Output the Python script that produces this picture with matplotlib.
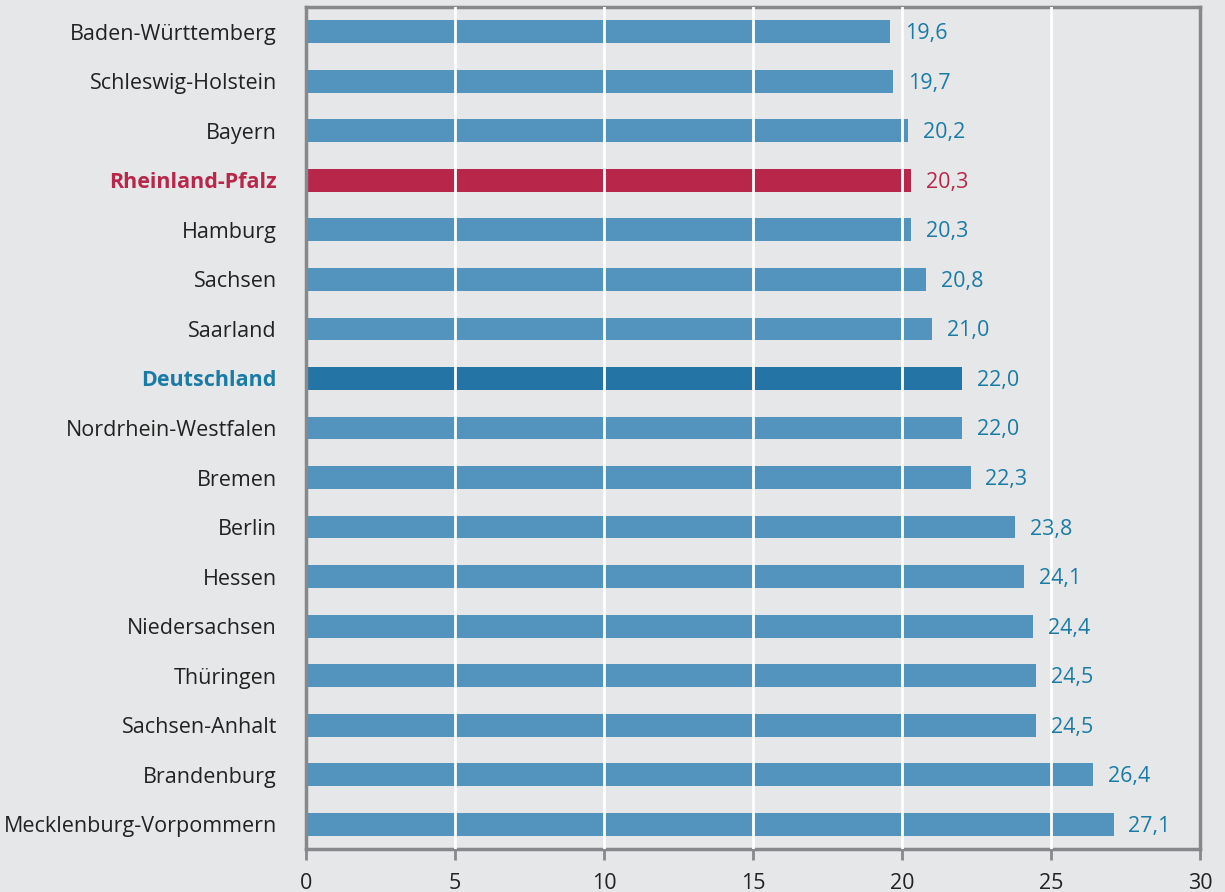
import matplotlib
matplotlib.use("Agg")
import matplotlib.pyplot as plt

states = ["Baden-Württemberg", "Schleswig-Holstein", "Bayern", "Rheinland-Pfalz",
          "Hamburg", "Sachsen", "Saarland", "Deutschland", "Nordrhein-Westfalen",
          "Bremen", "Berlin", "Hessen", "Niedersachsen", "Thüringen",
          "Sachsen-Anhalt", "Brandenburg", "Mecklenburg-Vorpommern"]
values = [19.6, 19.7, 20.2, 20.3, 20.3, 20.8, 21.0, 22.0, 22.0,
          22.3, 23.8, 24.1, 24.4, 24.5, 24.5, 26.4, 27.1]
xticks = [0, 5, 10, 15, 20, 25, 30]

bg = "#E6E7E8"
bar_col = "#5294BD"
red = "#B8274A"
dblue = "#2474A6"
val_col = "#1A7BA5"
spine_col = "#86888C"

plt.rcParams['font.family'] = ['Open Sans', 'DejaVu Sans']

fig = plt.figure(figsize=(12.25, 8.92), dpi=100, facecolor=bg)
ax = fig.add_axes([306 / 1225, 1 - 849 / 892, (1200 - 306) / 1225, (849 - 7) / 892])
ax.set_facecolor(bg)

colors = []
for s in states:
    if s == "Rheinland-Pfalz":
        colors.append(red)
    elif s == "Deutschland":
        colors.append(dblue)
    else:
        colors.append(bar_col)

ypos = list(range(len(states)))
ax.barh(ypos, values, height=0.46, color=colors, zorder=2)
for x in xticks[1:-1]:
    ax.axvline(x, color="white", lw=2, zorder=3)

for y, v, s in zip(ypos, values, states):
    c = red if s == "Rheinland-Pfalz" else val_col
    ax.text(v + 0.5, y + 0.04, f"{v:.1f}".replace(".", ","), va="center", ha="left",
            fontsize=15.5, color=c)

ax.set_xlim(0, 30)
ax.set_ylim(16.5, -0.5)
ax.set_xticks(xticks)
ax.set_xticklabels([str(t) for t in xticks], fontsize=15.5, color="#222222")
ax.set_yticks(ypos)
ax.set_yticklabels(states, fontsize=15.5, color="#222222")
ax.tick_params(axis="y", length=0, pad=21)
ax.tick_params(axis="x", length=8, width=2, color=spine_col, pad=9)

for lab in ax.get_yticklabels():
    if lab.get_text() == "Rheinland-Pfalz":
        lab.set_color(red)
        lab.set_fontweight("bold")
    elif lab.get_text() == "Deutschland":
        lab.set_color(val_col)
        lab.set_fontweight("bold")

for sp in ax.spines.values():
    sp.set_color(spine_col)
    sp.set_linewidth(2.5)

fig.savefig("out.png", dpi=100, facecolor=bg)
